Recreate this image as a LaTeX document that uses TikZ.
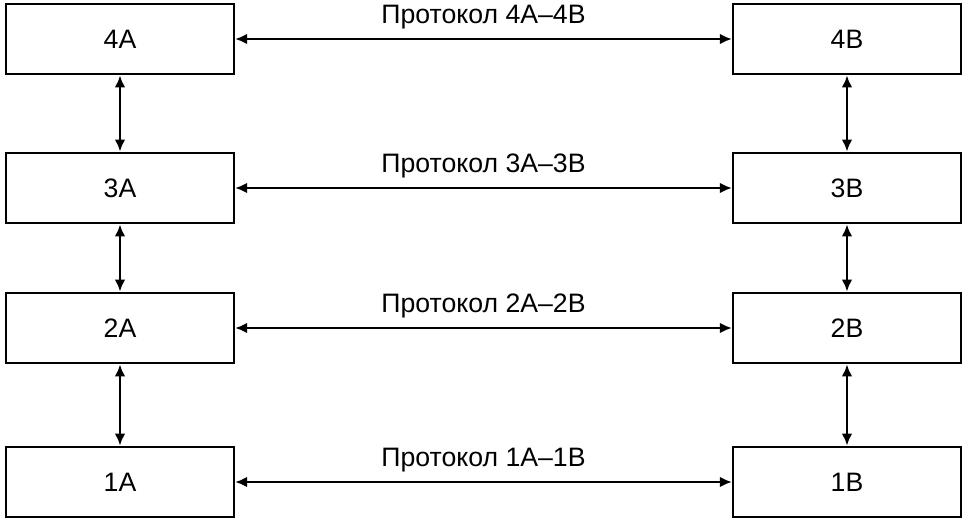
\documentclass[tikz,border=0pt]{standalone}
\usepackage{fontspec}
\setmainfont{Liberation Sans}
\tikzset{>=latex}
\usetikzlibrary{arrows, arrows.meta, calc}
\tikzset{
  layer/.style={draw, line width=1.6pt, minimum width=171pt, minimum height=53pt, inner sep=0pt, font=\fontsize{20}{23}\selectfont},
  proto/.style={font=\fontsize{20}{23}\selectfont},
  link/.style={{Latex[length=9pt,width=8pt]}-{Latex[length=9pt,width=8pt]}, line width=2pt}
}

\begin{document}
\begin{tikzpicture}[x=0.75pt, y=-0.75pt]
    \useasboundingbox (0,0) rectangle (968,522);
    % stack A
    \node [layer] (a4) at (120,39) {4A};
    \node [layer] (a3) at (120,188) {3A};
    \node [layer] (a2) at (120,328) {2A};
    \node [layer] (a1) at (120,482) {1A};
    % stack B
    \node [layer] (b4) at (847,39) {4B};
    \node [layer] (b3) at (847,188) {3B};
    \node [layer] (b2) at (847,328) {2B};
    \node [layer] (b1) at (847,482) {1B};
    % peer protocols
    \draw [link] (a4) -- (b4) node [proto, midway, above, yshift=3pt] {Протокол 4A–4B};
    \draw [link] (a3) -- (b3) node [proto, midway, above, yshift=3pt] {Протокол 3A–3B};
    \draw [link] (a2) -- (b2) node [proto, midway, above, yshift=3pt] {Протокол 2A–2B};
    \draw [link] (a1) -- (b1) node [proto, midway, above, yshift=3pt] {Протокол 1A–1B};
    % interfaces
    \draw [link] (a4) -- (a3);
    \draw [link] (a3) -- (a2);
    \draw [link] (a2) -- (a1);
    \draw [link] (b4) -- (b3);
    \draw [link] (b3) -- (b2);
    \draw [link] (b2) -- (b1);
\end{tikzpicture}
\end{document}
